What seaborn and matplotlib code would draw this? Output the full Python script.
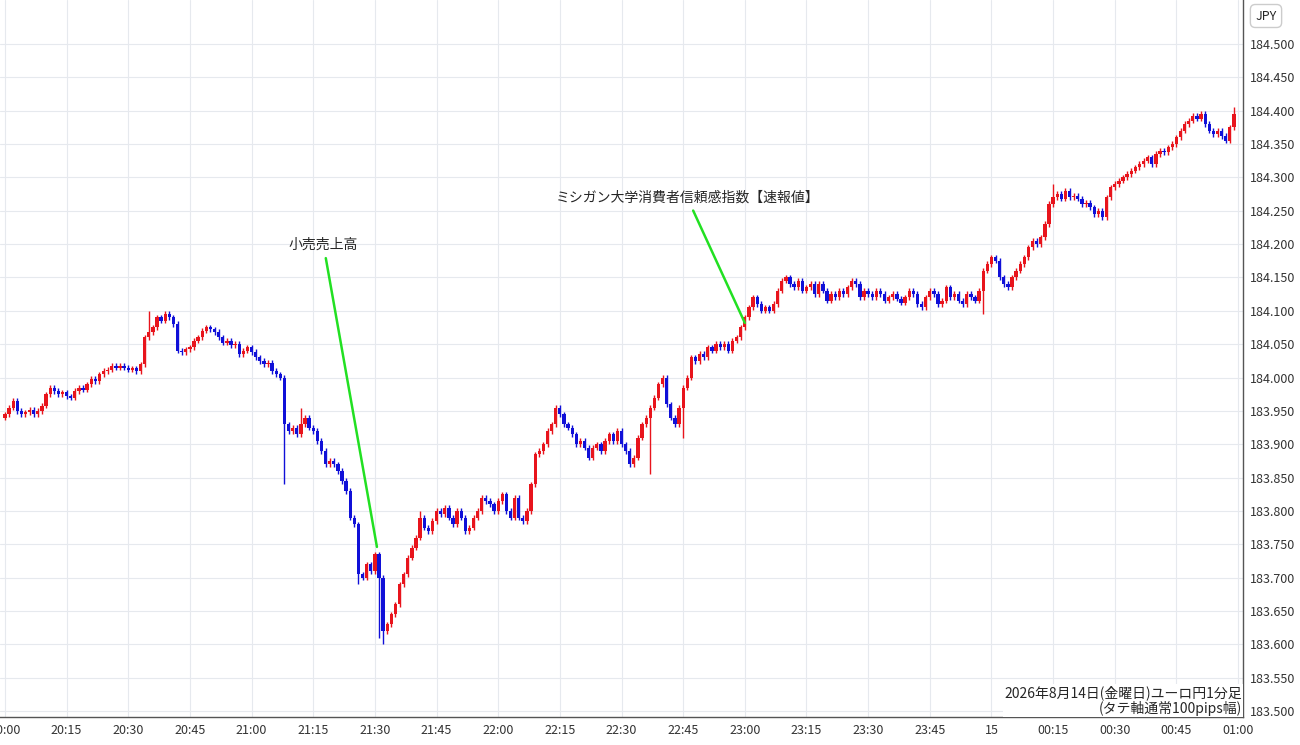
import matplotlib
matplotlib.use("Agg")
import matplotlib.pyplot as plt
import seaborn as sns
import numpy as np
import pandas as pd

closes = [
183.945,183.955,183.965,183.950,183.945,183.948,183.952,183.945,183.950,183.958,
183.975,183.985,183.980,183.975,183.978,183.972,183.970,183.980,183.985,183.982,
183.990,183.998,183.995,184.005,184.010,184.012,184.018,184.015,184.018,184.015,
184.012,184.014,184.010,184.020,184.060,184.068,184.075,184.090,184.085,184.095,
184.090,184.080,184.040,184.038,184.042,184.045,184.055,184.060,184.070,184.075,
184.072,184.068,184.060,184.052,184.055,184.048,184.050,184.035,184.040,184.045,
184.038,184.030,184.025,184.020,184.022,184.010,184.005,184.000,183.930,183.920,
183.925,183.915,183.930,183.940,183.925,183.920,183.905,183.890,183.870,183.875,
183.870,183.860,183.845,183.830,183.790,183.780,183.705,183.700,183.720,183.710,
183.735,183.700,183.620,183.630,183.645,183.660,183.690,183.705,183.730,183.745,
183.760,183.790,183.775,183.770,183.785,183.800,183.795,183.805,183.790,183.780,
183.800,183.790,183.770,183.775,183.790,183.800,183.820,183.815,183.810,183.800,
183.815,183.825,183.800,183.790,183.820,183.790,183.785,183.800,183.840,183.885,
183.890,183.900,183.920,183.930,183.955,183.945,183.930,183.925,183.915,183.900,
183.905,183.895,183.880,183.895,183.900,183.890,183.905,183.915,183.905,183.920,
183.900,183.890,183.870,183.880,183.910,183.930,183.940,183.955,183.970,183.990,
184.000,183.960,183.940,183.930,183.955,183.985,184.000,184.030,184.025,184.035,
184.030,184.045,184.040,184.050,184.045,184.050,184.040,184.055,184.060,184.075,
184.090,184.105,184.120,184.110,184.100,184.105,184.100,184.110,184.130,184.145,
184.150,184.140,184.135,184.145,184.130,184.135,184.140,184.125,184.140,184.130,
184.115,184.125,184.120,184.130,184.125,184.135,184.145,184.140,184.120,184.130,
184.125,184.120,184.130,184.125,184.115,184.120,184.125,184.118,184.112,184.120,
184.130,184.125,184.110,184.105,184.120,184.130,184.125,184.110,184.115,184.135,
184.120,184.125,184.115,184.110,184.125,184.120,184.115,184.130,184.160,184.170,
184.180,184.175,184.150,184.140,184.135,184.150,184.160,184.170,184.180,184.195,
184.205,184.200,184.210,184.230,184.260,184.270,184.275,184.268,184.280,184.270,
184.272,184.268,184.260,184.262,184.255,184.245,184.250,184.240,184.270,184.285,
184.290,184.295,184.300,184.305,184.310,184.315,184.320,184.325,184.330,184.320,
184.335,184.340,184.338,184.345,184.350,184.360,184.370,184.380,184.385,184.392,
184.388,184.395,184.380,184.370,184.365,184.370,184.362,184.355,184.375,184.395,
]
first_open = 183.940
# notable wick extremes (minute index -> price)
low_marks = {68: 183.840, 86: 183.690, 91: 183.610, 92: 183.600, 93: 183.615, 157: 183.855, 165: 183.910, 198: 184.120, 238: 184.095}
high_marks = {72: 183.955, 35: 184.100, 101: 183.800, 255: 184.290, 299: 184.405}

xtick_pos = list(range(0, 301, 15))
xtick_labels = ["20:00","20:15","20:30","20:45","21:00","21:15","21:30","21:45","22:00","22:15",
                "22:30","22:45","23:00","23:15","23:30","23:45","15","00:15","00:30","00:45","01:00"]
yticks = [round(183.5 + 0.05*i, 3) for i in range(21)]

sns.set_theme(style="white")
plt.rcParams['font.family'] = ['Noto Sans CJK JP', 'DejaVu Sans']

n = len(closes)
opens = [first_open] + closes[:-1]
wick = 0.004
highs = [max(o, c) + wick for o, c in zip(opens, closes)]
lows = [min(o, c) - wick for o, c in zip(opens, closes)]
for k, v in low_marks.items():
    lows[k] = min(lows[k], v)
for k, v in high_marks.items():
    highs[k] = max(highs[k], v)
df = pd.DataFrame({"t": np.arange(n), "o": opens, "c": closes, "h": highs, "l": lows})
df["col"] = np.where(df.c >= df.o, "#e8141c", "#1010d8")

fig = plt.figure(figsize=(13, 7.45), dpi=100)
ax = fig.add_axes([0, 1 - 717/745, 1243/1300, 717/745])
ax.set_facecolor("white")
for yv in yticks:
    ax.axhline(yv, color="#e6e9ee", lw=0.8, zorder=0)
for xv in xtick_pos:
    ax.axvline(xv, color="#e6e9ee", lw=0.8, zorder=0)

ax.vlines(df.t, df.l, df.h, colors=df.col, lw=1.0, zorder=2)
body = (df.c - df.o).abs().clip(lower=0.0015)
ax.bar(df.t, body, bottom=np.minimum(df.o, df.c), width=0.8, color=df.col, lw=0, zorder=3)

ax.set_xlim(-1.2, 301.2)
ax.set_ylim(183.491, 184.566)
ax.yaxis.tick_right()
ax.set_yticks(yticks)
ax.set_yticklabels([f"{v:.3f}" for v in yticks], fontsize=9, color="#333333")
ax.set_xticks(xtick_pos)
ax.set_xticklabels(xtick_labels, fontsize=9, color="#333333")
ax.tick_params(axis="both", length=0, pad=5)
for s in ["top", "left"]:
    ax.spines[s].set_visible(False)
for s in ["right", "bottom"]:
    ax.spines[s].set_color("#555555")
    ax.spines[s].set_linewidth(1)

ax.annotate("小売売上高", xy=(90.5, 183.746), xytext=(77.5, 184.188),
            fontsize=10, ha="center", va="bottom",
            arrowprops=dict(arrowstyle="-", color="#22e022", lw=1.8, shrinkA=2, shrinkB=0))
ax.annotate("ミシガン大学消費者信頼感指数【速報値】", xy=(180, 184.082), xytext=(166, 184.259),
            fontsize=10, ha="center", va="bottom",
            arrowprops=dict(arrowstyle="-", color="#22e022", lw=1.8, shrinkA=2, shrinkB=0))
ax.text(0.999, 0.002, "2026年8月14日(金曜日)ユーロ円1分足\n(タテ軸通常100pips幅)",
        transform=ax.transAxes, ha="right", va="bottom", fontsize=10, linespacing=1.0,
        bbox=dict(facecolor="white", edgecolor="none", pad=1))
fig.text(1266/1300, 1 - 16/745, "JPY", fontsize=9, ha="center", va="center",
         bbox=dict(facecolor="white", edgecolor="#cccccc", boxstyle="round,pad=0.4"))

fig.savefig("out.png", dpi=100, facecolor="white")
